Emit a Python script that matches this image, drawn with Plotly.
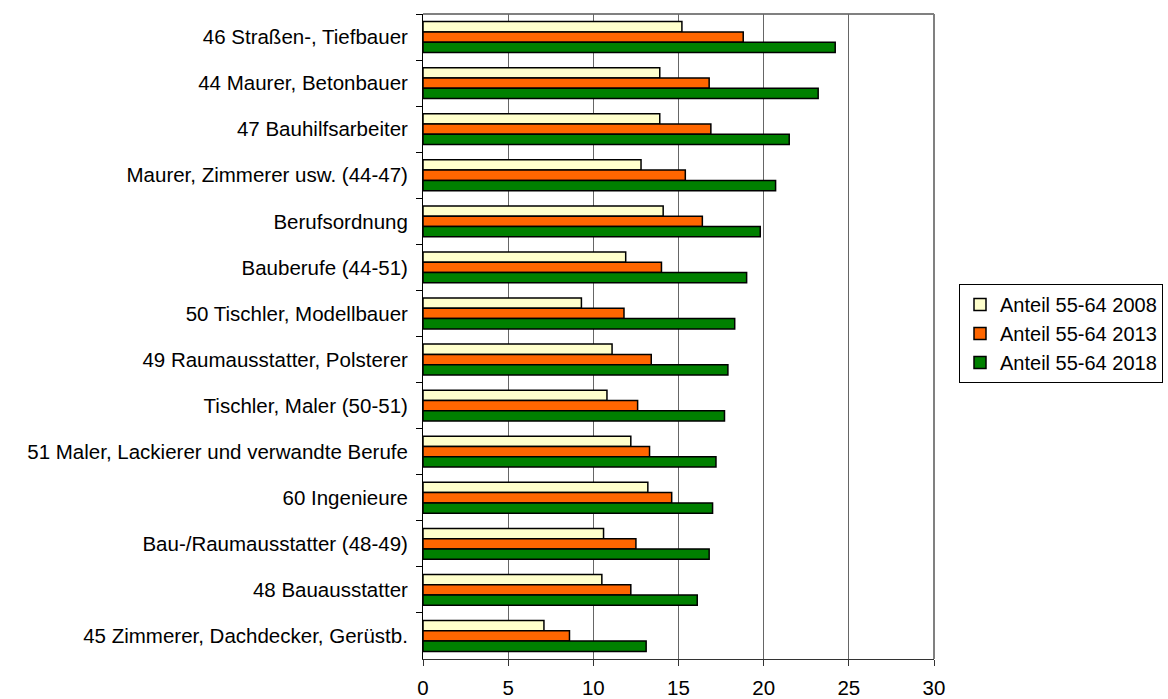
import plotly.graph_objects as go

# Occupational groups, listed top to bottom
categories = [
    "46 Straßen-, Tiefbauer",
    "44 Maurer, Betonbauer",
    "47 Bauhilfsarbeiter",
    "Maurer, Zimmerer usw. (44-47)",
    "Berufsordnung",
    "Bauberufe (44-51)",
    "50 Tischler, Modellbauer",
    "49 Raumausstatter, Polsterer",
    "Tischler, Maler (50-51)",
    "51 Maler, Lackierer und verwandte Berufe",
    "60 Ingenieure",
    "Bau-/Raumausstatter (48-49)",
    "48 Bauausstatter",
    "45 Zimmerer, Dachdecker, Gerüstb.",
]

# Share of employees aged 55-64 (%)
anteil_2008 = [15.2, 13.9, 13.9, 12.8, 14.1, 11.9, 9.3, 11.1, 10.8, 12.2, 13.2, 10.6, 10.5, 7.1]
anteil_2013 = [18.8, 16.8, 16.9, 15.4, 16.4, 14.0, 11.8, 13.4, 12.6, 13.3, 14.6, 12.5, 12.2, 8.6]
anteil_2018 = [24.2, 23.2, 21.5, 20.7, 19.8, 19.0, 18.3, 17.9, 17.7, 17.2, 17.0, 16.8, 16.1, 13.1]

series_names = ["Anteil 55-64 2008", "Anteil 55-64 2013", "Anteil 55-64 2018"]
series_values = [anteil_2008, anteil_2013, anteil_2018]
series_colors = ["#FFFFCC", "#FF6600", "#008000"]

x_ticks = [0, 5, 10, 15, 20, 25, 30]

FONT = "Liberation Sans, Arial, sans-serif"
FS = 20.5

fig = go.Figure()
for name, vals, col in zip(series_names, series_values, series_colors):
    fig.add_trace(go.Bar(
        y=categories,
        x=vals,
        name=name,
        orientation="h",
        marker=dict(color=col, line=dict(color="black", width=1.5)),
    ))

fig.update_layout(
    width=1168,
    height=699,
    margin=dict(l=423, r=234, t=14, b=40, autoexpand=False),
    paper_bgcolor="white",
    plot_bgcolor="white",
    barmode="group",
    bargap=0.33,
    bargroupgap=0,
    font=dict(family=FONT, size=FS, color="black"),
    showlegend=True,
    legend=dict(
        xref="container", yref="container",
        x=959 / 1168, y=1 - 284 / 699, xanchor="left", yanchor="top",
        bgcolor="white", bordercolor="black", borderwidth=1,
        traceorder="normal",
        font=dict(family=FONT, size=20, color="black"),
        itemwidth=30,
        tracegroupgap=0,
    ),
    xaxis=dict(
        range=[0, 30],
        tickvals=x_ticks,
        ticktext=[str(v) for v in x_ticks],
        showgrid=True, gridcolor="#666666", gridwidth=1,
        showline=True, linecolor="#333333", linewidth=1,
        ticks="outside", ticklen=6, tickcolor="#333333",
        ticklabelstandoff=4,
        tickfont=dict(family=FONT, size=FS, color="black"),
        zeroline=False,
        automargin=False,
        fixedrange=True,
    ),
    yaxis=dict(
        categoryorder="array",
        categoryarray=categories,
        autorange="reversed",
        showgrid=False,
        showline=True, linecolor="black", linewidth=1,
        ticks="outside", ticklen=6, tickcolor="black",
        tickson="boundaries",
        ticklabelstandoff=10,
        tickfont=dict(family=FONT, size=FS, color="black"),
        zeroline=False,
        automargin=False,
        fixedrange=True,
    ),
    shapes=[
        dict(type="line", xref="paper", yref="paper", x0=0, x1=1, y0=1, y1=1,
             line=dict(color="#808080", width=2), layer="below"),
        dict(type="line", xref="paper", yref="paper", x0=1, x1=1, y0=0, y1=1,
             line=dict(color="#808080", width=2), layer="below"),
    ],
)

fig.write_html("out.html")
